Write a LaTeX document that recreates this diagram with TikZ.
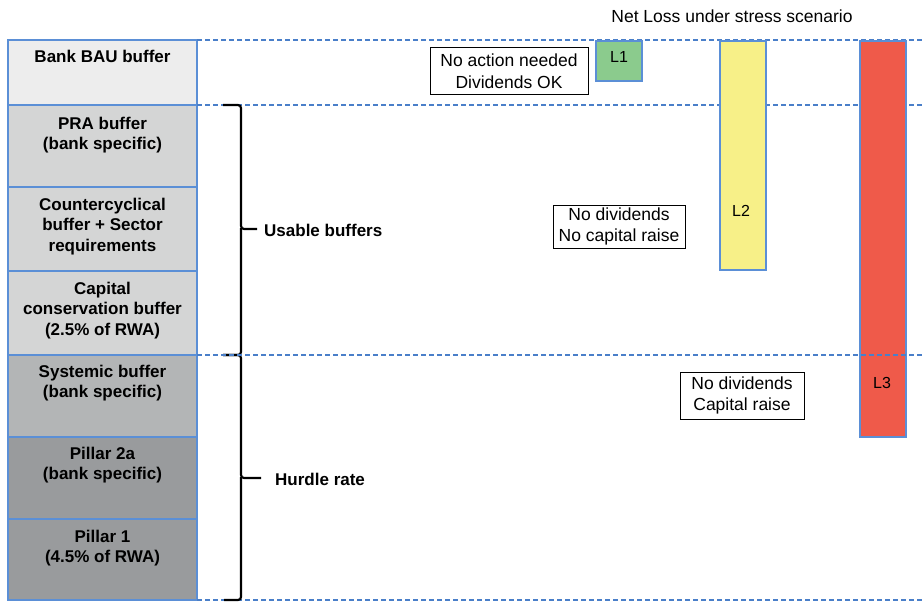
\documentclass[tikz,border=0pt]{standalone}
\usepackage{fontspec}
\setmainfont{Liberation Sans}
\definecolor{bblue}{HTML}{5B8FD6}
\definecolor{dblue}{HTML}{4A7FC9}
\definecolor{cbau}{HTML}{EDEDED}
\definecolor{cuse}{HTML}{D4D5D5}
\definecolor{csys}{HTML}{B3B5B6}
\definecolor{cpil}{HTML}{999B9D}
\definecolor{cgreen}{HTML}{8BCB8D}
\definecolor{cyellow}{HTML}{F7F088}
\definecolor{cred}{HTML}{EF5A4A}
\begin{document}
\begin{tikzpicture}[x=1pt,y=-1pt,
  cell/.style={draw=bblue, line width=1.3pt, inner sep=0pt, outer sep=0pt, minimum width=189pt},
  celltxt/.style={anchor=north, inner sep=0pt, align=center, font=\fontsize{17}{20.5}\selectfont\bfseries},
  dline/.style={draw=dblue, dash pattern=on 5pt off 3pt, line width=1.3pt},
  bracestyle/.style={draw=black, line width=2.2pt, rounded corners=3pt},
  lbl/.style={anchor=west, inner sep=0pt, font=\fontsize{17}{20}\selectfont\bfseries},
  msgbox/.style={draw=black, line width=1pt, inner sep=0pt, align=center, font=\fontsize{17.5}{21.5}\selectfont},
  bar/.style={draw=bblue, line width=1.3pt, inner sep=0pt, outer sep=0pt, minimum width=46pt},
  bartxt/.style={anchor=north, inner sep=0pt, font=\fontsize{16}{19}\selectfont}]
\useasboundingbox (0,0) rectangle (923,602);
% left column cells
\node[cell, fill=cbau, minimum height=65pt] (bau) at (102.5,72.5) {};
\node[cell, fill=cuse, minimum height=82pt] (pra) at (102.5,146) {};
\node[cell, fill=cuse, minimum height=84pt] (ccb) at (102.5,229) {};
\node[cell, fill=cuse, minimum height=84pt] (cons) at (102.5,313) {};
\node[cell, fill=csys, minimum height=82pt] (sys) at (102.5,396) {};
\node[cell, fill=cpil, minimum height=82pt] (p2a) at (102.5,478) {};
\node[cell, fill=cpil, minimum height=81pt] (p1) at (102.5,559.5) {};
% cell texts
\node[celltxt] (baut) at (102.5,49.5) {Bank BAU buffer};
\node[celltxt] (prat) at (102.5,116.5) {PRA buffer\\(bank specific)};
\node[celltxt] (ccbt) at (102.5,197.5) {Countercyclical\\buffer + Sector\\requirements};
\node[celltxt] (const) at (102.5,281.5) {Capital\\conservation buffer\\(2.5\% of RWA)};
\node[celltxt] (syst) at (102.5,364.5) {Systemic buffer\\(bank specific)};
\node[celltxt] (p2at) at (102.5,446.5) {Pillar 2a\\(bank specific)};
\node[celltxt] (p1t) at (102.5,529.5) {Pillar 1\\(4.5\% of RWA)};
% dashed guide lines
\coordinate (e1) at (923,40);
\coordinate (e2) at (923,105);
\coordinate (e3) at (923,355);
\coordinate (e4) at (923,600);
\draw[dline] (bau.north east) -- (e1);
\draw[dline] (bau.south east) -- (e2);
\draw[dline] (p1.south east) -- (e4);
% braces
\draw[bracestyle] (223,105) -- (241,105) -- (241,229) -- (257,229);
\draw[bracestyle] (241,228) -- (241,355) -- (223,355);
\draw[bracestyle] (223,355) -- (241,355) -- (241,478) -- (261,478);
\draw[bracestyle] (241,477) -- (241,600) -- (224,600);
\node[lbl] (usable) at (264,230) {Usable buffers};
\node[lbl] (hurdle) at (275,479) {Hurdle rate};
% title
\node[inner sep=0pt, font=\fontsize{17.5}{21}\selectfont] (title) at (732,16) {Net Loss under stress scenario};
% loss bars
\node[bar, fill=cgreen, minimum height=40pt] (l1) at (619,61) {};
\node[bar, fill=cyellow, minimum height=229pt] (l2) at (743,155.5) {};
\node[bar, fill=cred, minimum height=396pt] (l3) at (883,239) {};
\node[bartxt] (l1t) at (619,51) {L1};
\node[bartxt] (l2t) at (741,205) {L2};
\node[bartxt] (l3t) at (882,377) {L3};
\draw[dline] (cons.south east) -- (e3);
% message boxes
\node[msgbox, minimum width=158pt, minimum height=46pt] (m1) at (509,71) {No action needed\\Dividends OK};
\node[msgbox, minimum width=132pt, minimum height=43pt] (m2) at (619,226.5) {No dividends\\No capital raise};
\node[msgbox, minimum width=124pt, minimum height=47pt] (m3) at (742,395.5) {No dividends\\Capital raise};
\end{tikzpicture}
\end{document}
